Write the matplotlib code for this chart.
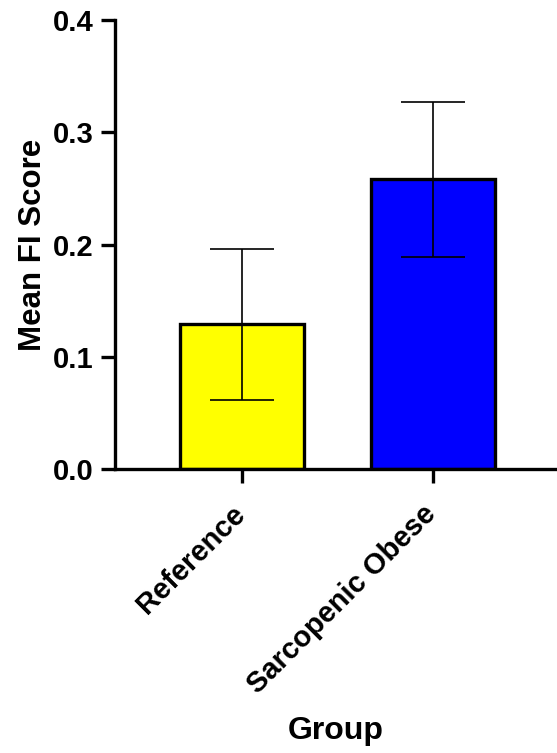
import matplotlib
matplotlib.use("Agg")
import matplotlib.pyplot as plt
from matplotlib.transforms import ScaledTranslation

categories = ["Reference", "Sarcopenic Obese"]
means = [0.129, 0.258]
errors = [0.067, 0.069]
colors = ["#FFFF00", "#0000FF"]
yticks = [0.0, 0.1, 0.2, 0.3, 0.4]

plt.rcParams['font.family'] = ['Liberation Sans', 'DejaVu Sans']
plt.rcParams['font.weight'] = 'bold'

fig = plt.figure(figsize=(5.57, 7.53), dpi=100)
ax = fig.add_axes([0.206, 0.377, 0.794, 0.5964])

x = list(range(len(categories)))
ax.bar(x, means, width=0.65, color=colors, edgecolor='black', linewidth=2.4, zorder=2)
ax.errorbar(x, means, yerr=errors, fmt='none', ecolor='black', elinewidth=1.2,
            capsize=32 * 0.72, capthick=1.2, zorder=3)

ax.set_xlim(-0.665, 1.65)
ax.set_ylim(0, 0.4)

for s in ['top', 'right']:
    ax.spines[s].set_visible(False)
for s in ['left', 'bottom']:
    ax.spines[s].set_linewidth(2.4)
ax.tick_params(axis='y', width=2.4, length=10, direction='out', pad=5)
ax.tick_params(axis='x', width=2.4, length=10, direction='out', pad=12)

ax.set_yticks(yticks)
ax.set_yticklabels([f"{v:.1f}" for v in yticks], fontsize=21, fontweight='bold')
ax.set_xticks(x)
ax.set_xticklabels(categories, rotation=45, ha='right', rotation_mode='anchor',
                   fontsize=21, fontweight='bold')
offset = ScaledTranslation(-0.11, 0, fig.dpi_scale_trans)
for lbl in ax.get_xticklabels():
    lbl.set_transform(lbl.get_transform() + offset)

ax.set_ylabel("Mean FI Score", fontsize=22.5, fontweight='bold', labelpad=4)
ax.set_xlabel("Group", fontsize=23, fontweight='bold', labelpad=12)

fig.savefig("out.png", dpi=100)
